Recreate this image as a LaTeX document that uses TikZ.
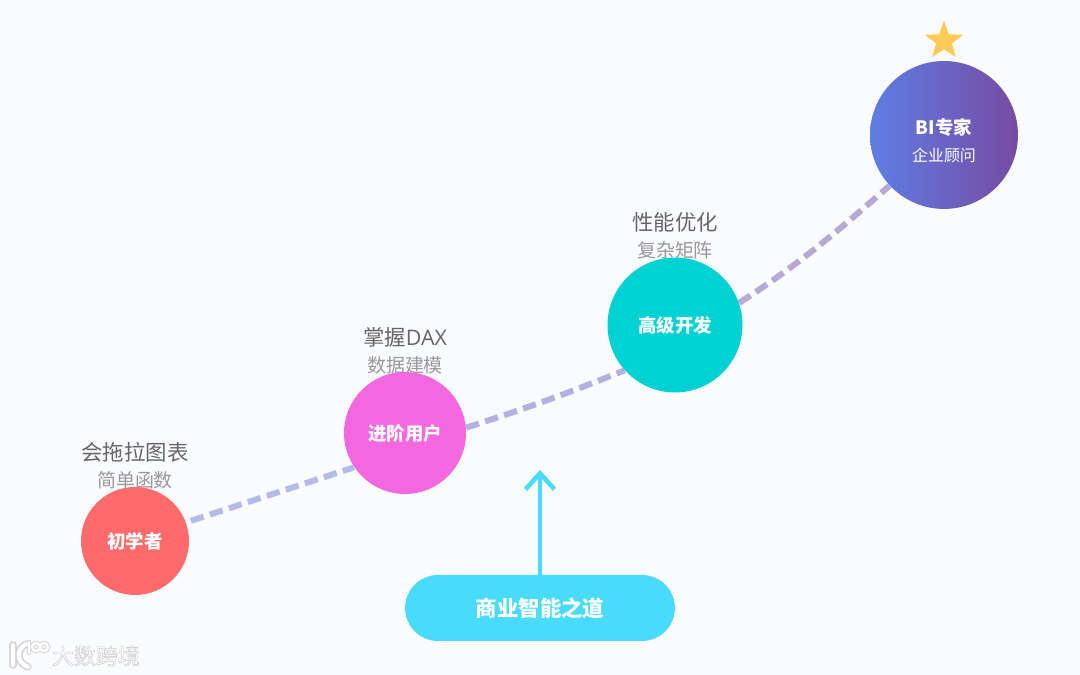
\documentclass[tikz,border=0pt]{standalone}
\usepackage{fontspec}
\setmainfont{Noto Sans CJK SC}
\newfontfamily\latinfont{Open Sans}
\usetikzlibrary{arrows.meta,backgrounds,shapes.geometric}
\definecolor{pagebg}{HTML}{FAFBFE}
\definecolor{beginnercol}{HTML}{FF6B6B}
\definecolor{powercol}{HTML}{F368E0}
\definecolor{devcol}{HTML}{00D2D3}
\definecolor{pillcol}{HTML}{48DBFB}
\definecolor{starcol}{HTML}{FECA57}
\definecolor{expertleft}{RGB}{95,125,228}
\definecolor{expertright}{RGB}{118,75,162}
\definecolor{roada}{RGB}{179,187,235}
\definecolor{roadb}{RGB}{181,176,226}
\definecolor{roadc}{RGB}{183,168,214}
\tikzset{
  level/.style={circle, inner sep=0pt, text=white, font=\fontsize{10.5}{12}\selectfont\bfseries},
  title/.style={text=black!60, font=\fontsize{12.2}{14}\selectfont},
  subtitle/.style={text=black!40, font=\fontsize{10.8}{13}\selectfont},
  road/.style={line width=0.12cm, dash pattern=on 0.27cm off 0.13cm}
}
\begin{document}
\begin{tikzpicture}[x=0.02cm, y=0.02cm]
    \useasboundingbox (0,0) rectangle (1080,675);
    % Labels above the circles
    \node[title] (titlea) at (135,223) {会拖拉图表};
    \node[subtitle] (suba) at (135,195) {简单函数};
    \node[title] (titleb) at (405,338) {掌握{\latinfont DAX}};
    \node[subtitle] (subb) at (405,310) {数据建模};
    \node[title] (titlec) at (675,453) {性能优化};
    \node[subtitle] (subc) at (675,425) {复杂矩阵};
    % Circles
    \node[level, fill=beginnercol, minimum size=2.16cm] (beginner) at (135,134) {初学者};
    \node[level, fill=powercol, minimum size=2.44cm] (power) at (405,242) {进阶用户};
    \node[level, fill=devcol, minimum size=2.7cm] (dev) at (675,350) {高级开发};
    \node[level, minimum size=2.96cm, left color=expertleft, right color=expertright, align=center] (expert) at (944,540)
        {{\rule{0pt}{16pt}\fontsize{10.5}{15}\selectfont\bfseries BI专家}\\[3.3pt]{\fontsize{9.1}{12}\selectfont\mdseries 企业顾问}};
    % Star
    \node[star, star points=5, star point ratio=2.4, inner sep=0pt, minimum size=0.8cm, fill=starcol] (top) at (944,634) {};
    % Pill and arrow
    \node[rounded corners=0.66cm, fill=pillcol, minimum width=5.4cm, minimum height=1.32cm, text=white, inner sep=0pt, font=\fontsize{12.2}{14}\selectfont\bfseries] (pill) at (540,67) {商业智能之道};
    \coordinate (tip) at (540,205);
    \draw[pillcol, line width=0.09cm, -{Straight Barb[length=0.32cm,width=0.58cm]}] (pill.north) -- (tip);
    % Watermark
    \node[text=white, font=\fontsize{12.5}{14}\selectfont] (mark) at (96,19)
        {\special{pdf:code q 2 Tr 0.3 w 0.8 G}大数跨境\special{pdf:code Q}};
    \foreach \c/\w in {black!16/0.15cm, white/0.08cm} {
        \draw[\c, line width=\w, line cap=round] (13,30) -- (13,10);
        \draw[\c, line width=\w, line cap=round] (26,31) .. controls (16,25) and (16,13) .. (28,8);
        \draw[\c, line width=\w*0.6, line cap=round] (29,33) -- (29,22);
        \draw[\c, line width=\w*0.6] (36,28) circle (4);
        \draw[\c, line width=\w*0.6] (44,28) circle (4);
    }
    % Dashed road behind the circles
    \begin{scope}[on background layer]
        \fill[pagebg] (0,0) rectangle (1080,675);
        \draw[road, color=roada, shorten <=0.1cm] (beginner.20) -- (power.214);
        \draw[road, color=roadb] (power.5) to[bend right=2] (dev.222);
        \draw[road, color=roadc] (dev.19) to[out=33,in=221] (expert.223);
    \end{scope}
\end{tikzpicture}
\end{document}
